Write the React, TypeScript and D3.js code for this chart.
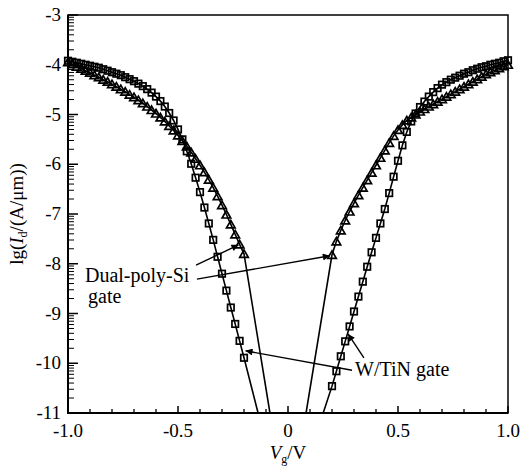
import React from 'react'
import * as d3 from 'd3'

// gate voltage samples (V)
const vgLeft = [-1.0, -0.98, -0.96, -0.94, -0.92, -0.9, -0.88, -0.86, -0.84, -0.82, -0.8, -0.78, -0.76, -0.74, -0.72, -0.7, -0.68, -0.66, -0.64, -0.62, -0.6, -0.58, -0.56, -0.54, -0.52, -0.5, -0.48, -0.46, -0.44, -0.42, -0.4, -0.38, -0.36, -0.34, -0.32, -0.3, -0.28, -0.26, -0.24, -0.22, -0.2]
const vgRight = [0.2, 0.22, 0.24, 0.26, 0.28, 0.3, 0.32, 0.34, 0.36, 0.38, 0.4, 0.42, 0.44, 0.46, 0.48, 0.5, 0.52, 0.54, 0.56, 0.58, 0.6, 0.62, 0.64, 0.66, 0.68, 0.7, 0.72, 0.74, 0.76, 0.78, 0.8, 0.82, 0.84, 0.86, 0.88, 0.9, 0.92, 0.94, 0.96, 0.98, 1.0]

// lg(Id) for the W/TiN gate (squares)
const wtinLeft = [-3.92, -3.94, -3.96, -3.98, -4.0, -4.02, -4.04, -4.06, -4.09, -4.12, -4.15, -4.18, -4.21, -4.25, -4.29, -4.33, -4.38, -4.43, -4.49, -4.56, -4.64, -4.73, -4.84, -4.97, -5.12, -5.3, -5.5, -5.74, -5.99, -6.27, -6.56, -6.87, -7.19, -7.52, -7.86, -8.2, -8.54, -8.88, -9.21, -9.55, -9.89]
const wtinRight = [-10.46, -10.16, -9.86, -9.56, -9.26, -8.96, -8.66, -8.36, -8.06, -7.77, -7.48, -7.19, -6.9, -6.58, -6.25, -5.93, -5.62, -5.35, -5.14, -4.98, -4.85, -4.74, -4.64, -4.55, -4.47, -4.4, -4.35, -4.3, -4.26, -4.22, -4.18, -4.15, -4.11, -4.08, -4.05, -4.03, -4.0, -3.98, -3.96, -3.93, -3.91]

// lg(Id) for the dual-poly-Si gate (triangles)
const polyLeft = [-3.95, -3.99, -4.04, -4.08, -4.12, -4.16, -4.21, -4.25, -4.3, -4.34, -4.39, -4.44, -4.49, -4.54, -4.6, -4.65, -4.71, -4.77, -4.84, -4.91, -4.98, -5.06, -5.14, -5.23, -5.32, -5.42, -5.53, -5.64, -5.76, -5.89, -6.02, -6.16, -6.31, -6.47, -6.64, -6.82, -7.01, -7.21, -7.41, -7.61, -7.8]
const polyRight = [-7.82, -7.55, -7.33, -7.13, -6.95, -6.78, -6.62, -6.47, -6.32, -6.17, -6.02, -5.87, -5.72, -5.57, -5.43, -5.31, -5.21, -5.12, -5.06, -5.0, -4.94, -4.89, -4.84, -4.79, -4.74, -4.69, -4.64, -4.59, -4.54, -4.49, -4.44, -4.39, -4.34, -4.29, -4.24, -4.19, -4.15, -4.11, -4.07, -4.03, -4.0]

// where the curves leave the plot at the bottom (lg = -11)
const wtinTail = [-0.136, 0.16]
const polyTail = [-0.082, 0.082]

const xTicks = [-1, -0.5, 0, 0.5, 1]
const xTickLabels = ['-1.0', '-0.5', '0', '0.5', '1.0']
const yTicks = [-11, -10, -9, -8, -7, -6, -5, -4, -3]

// annotation arrows [fromV, fromLg, toV, toLg]
const polyArrows = [[-0.418, -8.03, -0.225, -7.62], [-0.414, -8.31, 0.19, -7.84]]
const wtinArrows = [[0.291, -10.14, -0.193, -9.75], [0.345, -9.89, 0.273, -9.41]]

const W = 521, H = 467
const font = '"Liberation Serif", "Times New Roman", serif'

export default function App() {
  const x = d3.scaleLinear().domain([-1, 1]).range([68, 508])
  const y = d3.scaleLinear().domain([-11, -3]).range([413, 15])

  const line = d3.line<[number, number]>().x(d => x(d[0])).y(d => y(d[1]))

  const xMinor = d3.range(-10, 11).map(i => i / 10).filter(v => Math.abs(v * 2 - Math.round(v * 2)) > 1e-6)
  const yMinor: number[] = []
  for (let d = -11; d < -3; d++) for (let k = 2; k <= 9; k++) yMinor.push(d + Math.log10(k))

  const branches = [
    { v: vgLeft, lg: wtinLeft, tail: [wtinTail[0], -11], end: 'after', mark: 'square' },
    { v: vgRight, lg: wtinRight, tail: [wtinTail[1], -11], end: 'before', mark: 'square' },
    { v: vgLeft, lg: polyLeft, tail: [polyTail[0], -11], end: 'after', mark: 'tri' },
    { v: vgRight, lg: polyRight, tail: [polyTail[1], -11], end: 'before', mark: 'tri' },
  ]

  const sq = 6.5
  const tri = d3.symbol().type(d3.symbolTriangle).size(32)()

  return (
    <svg width={W} height={H} style={{ position: 'absolute', left: 0, top: 0, background: '#fff' }} fontFamily={font}>
      <defs>
        <marker id="ah" viewBox="0 0 10 10" refX="10" refY="5" markerWidth="10" markerHeight="7" markerUnits="userSpaceOnUse" orient="auto">
          <path d="M0,0 L10,5 L0,10 z" fill="#000" />
        </marker>
      </defs>

      {branches.map((b, i) => {
        const pts: [number, number][] = b.v.map((v, j) => [v, b.lg[j]])
        const full = b.end === 'after' ? [...pts, b.tail as [number, number]] : [b.tail as [number, number], ...pts]
        return <path key={'l' + i} d={line(full) || ''} fill="none" stroke="#000" strokeWidth={1.6} />
      })}

      {branches.map((b, i) =>
        b.v.map((v, j) =>
          b.mark === 'square' ? (
            <rect key={`s${i}-${j}`} x={x(v) - sq / 2} y={y(b.lg[j]) - sq / 2} width={sq} height={sq} fill="none" stroke="#000" strokeWidth={1.7} />
          ) : (
            <path key={`t${i}-${j}`} d={tri || ''} transform={`translate(${x(v)},${y(b.lg[j]) + 1})`} fill="none" stroke="#000" strokeWidth={1.7} />
          )
        )
      )}

      {[...polyArrows, ...wtinArrows].map((a, i) => (
        <line key={'a' + i} x1={x(a[0])} y1={y(a[1])} x2={x(a[2])} y2={y(a[3])} stroke="#000" strokeWidth={1.4} markerEnd="url(#ah)" />
      ))}

      {/* frame */}
      <rect x={68} y={15} width={440} height={398} fill="none" stroke="#000" strokeWidth={1.5} />
      <line x1={68} x2={68} y1={15} y2={414} stroke="#000" strokeWidth={2} />
      <line x1={67} x2={508} y1={413} y2={413} stroke="#000" strokeWidth={2} />

      {/* x ticks */}
      {xMinor.map(v => (
        <line key={'xm' + v} x1={x(v)} x2={x(v)} y1={413} y2={409} stroke="#000" strokeWidth={1.3} />
      ))}
      {xTicks.map((v, i) => (
        <g key={'x' + v}>
          <line x1={x(v)} x2={x(v)} y1={413} y2={406} stroke="#000" strokeWidth={1.5} />
          <text x={x(v)} y={437} textAnchor="middle" fontSize={19}>{xTickLabels[i]}</text>
        </g>
      ))}

      {/* y ticks */}
      {yMinor.map((v, i) => (
        <line key={'ym' + i} x1={68} x2={74} y1={y(v)} y2={y(v)} stroke="#000" strokeWidth={1} />
      ))}
      {yTicks.map(v => (
        <g key={'y' + v}>
          <line x1={68} x2={78} y1={y(v)} y2={y(v)} stroke="#000" strokeWidth={1.5} />
          <text x={61} y={y(v) + 6} textAnchor="end" fontSize={19}>{String(v)}</text>
        </g>
      ))}

      {/* axis titles */}
      <text x={288} y={459} textAnchor="middle" fontSize={19}>
        <tspan fontStyle="italic">V</tspan>
        <tspan fontSize={12} dy={4}>g</tspan>
        <tspan dy={-4}>/V</tspan>
      </text>
      <text transform={`translate(23,${214}) rotate(-90)`} textAnchor="middle" fontSize={19}>
        lg(<tspan fontStyle="italic">I</tspan>
        <tspan fontSize={12} dy={4}>d</tspan>
        <tspan dy={-4}>/(A/μm))</tspan>
      </text>

      {/* annotations */}
      <text x={x(-0.923)} y={y(-8.37)} fontSize={20}>Dual-poly-Si</text>
      <text x={x(-0.909)} y={y(-8.79)} fontSize={20}>gate</text>
      <text x={x(0.305)} y={y(-10.26)} fontSize={20}>W/TiN gate</text>
    </svg>
  )
}
